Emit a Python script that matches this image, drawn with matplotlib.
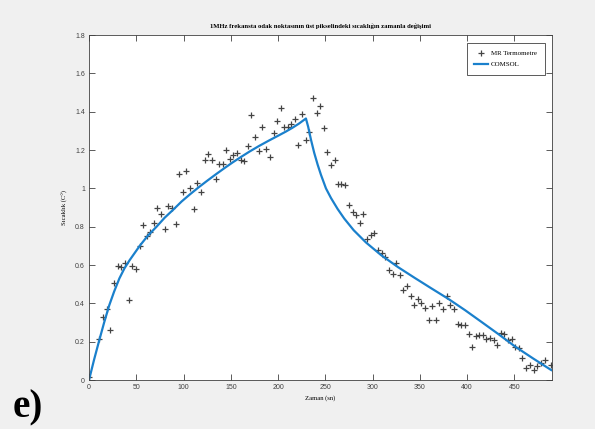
import numpy as np
import matplotlib
matplotlib.use('Agg')
import matplotlib.pyplot as plt

plt.rcParams['font.family'] = ['Liberation Sans', 'DejaVu Sans']

# MR termometre ölçümleri (zaman sn, sıcaklık)
mr_t = [0.3, 10.9, 14.9, 18.8, 22.6, 26.6, 30.5, 34.3, 38.2, 42.2, 45.7, 49.6,
        53.5, 57.4, 61.3, 64.8, 68.3, 72.2, 76.2, 80.0, 83.9, 87.4, 91.7, 95.6,
        99.1, 103.0, 107.0, 110.8, 114.4, 118.3, 122.2, 126.1, 130.0, 133.9, 137.8,
        141.3, 144.8, 149.0, 152.6, 156.5, 160.4, 163.9, 168.2, 171.8, 175.6, 179.5,
        183.5, 187.3, 191.2, 195.2, 198.7, 202.6, 206.4, 210.0, 213.5, 217.8, 221.3,
        225.5, 229.1, 233.0, 236.9, 240.8, 244.3, 248.3, 252.1, 256.0, 260.0, 263.8,
        267.0, 271.0, 275.2, 279.0, 282.9, 286.8, 290.4, 294.3, 298.2, 302.0, 305.6,
        309.5, 313.4, 317.3, 321.2, 325.1, 328.6, 332.5, 336.5, 340.3, 344.2, 348.1,
        351.6, 355.6, 359.4, 363.3, 366.8, 370.8, 374.7, 378.5, 382.1, 386.0, 389.9,
        393.8, 397.3, 401.6, 405.1, 409.0, 412.5, 416.4, 420.4, 424.2, 428.1, 431.6,
        435.6, 439.5, 443.3, 447.3, 450.8, 454.7, 458.6, 462.5, 466.4, 470.3, 474.1,
        478.1, 482.0, 489.0]
mr_T = [0.014, 0.215, 0.329, 0.372, 0.261, 0.504, 0.596, 0.591, 0.609, 0.416, 0.596, 0.577,
        0.700, 0.810, 0.753, 0.772, 0.820, 0.897, 0.866, 0.790, 0.909, 0.899, 0.814, 1.076,
        0.984, 1.093, 1.000, 0.894, 1.026, 0.982, 1.148, 1.180, 1.146, 1.049, 1.127,
        1.128, 1.201, 1.154, 1.174, 1.186, 1.148, 1.142, 1.219, 1.384, 1.266, 1.196,
        1.323, 1.208, 1.163, 1.287, 1.353, 1.420, 1.323, 1.323, 1.334, 1.361, 1.226,
        1.391, 1.255, 1.295, 1.473, 1.396, 1.428, 1.313, 1.191, 1.123, 1.148, 1.021,
        1.021, 1.017, 0.915, 0.876, 0.861, 0.821, 0.869, 0.737, 0.758, 0.765, 0.678,
        0.661, 0.640, 0.574, 0.551, 0.612, 0.546, 0.471, 0.492, 0.440, 0.391, 0.421,
        0.400, 0.374, 0.313, 0.386, 0.311, 0.403, 0.370, 0.437, 0.391, 0.372, 0.294,
        0.285, 0.285, 0.240, 0.174, 0.228, 0.235, 0.235, 0.212, 0.221, 0.210, 0.183,
        0.245, 0.238, 0.209, 0.212, 0.170, 0.165, 0.115, 0.064, 0.080, 0.052, 0.071,
        0.087, 0.107, 0.078]

# COMSOL simülasyonu
comsol_t = [0, 5.3, 10.7, 16, 21.4, 26.6, 32.1, 37.5, 42.9, 53.6, 62, 71.4, 80, 89.3,
            98, 107, 116, 125, 134, 143, 152, 161, 170, 180, 190, 200, 208, 215,
            222, 229.5, 231.9, 234.8, 238.3, 241.9, 245.4, 250.7, 256, 263, 270,
            280, 293, 309, 327, 344.6, 362, 380, 398, 415, 433, 451, 470, 489]
comsol_T = [0, 0.105, 0.205, 0.30, 0.39, 0.462, 0.53, 0.583, 0.625, 0.70, 0.752, 0.80,
            0.847, 0.89, 0.932, 0.97, 1.006, 1.04, 1.073, 1.105, 1.136, 1.165, 1.193,
            1.222, 1.249, 1.275, 1.296, 1.316, 1.338, 1.365, 1.321, 1.255, 1.185,
            1.124, 1.071, 1.0, 0.950, 0.893, 0.843, 0.782, 0.718, 0.652, 0.589,
            0.533, 0.479, 0.424, 0.364, 0.304, 0.240, 0.174, 0.112, 0.052]

fig = plt.figure(figsize=(5.95, 4.29), dpi=100, facecolor='#f0f0f0')
ax = fig.add_axes([0.1496, 0.1142, 0.7784, 0.8038])
ax.set_facecolor('white')

ax.plot(mr_t, mr_T, linestyle='none', marker='+', color='#444444', ms=4.5, mew=0.9,
        label='MR Termometre')
ax.plot(comsol_t, comsol_T, color='#1a80cc', lw=1.6, label='COMSOL')

ax.set_xlim(0, 490)
ax.set_ylim(0, 1.8)
ax.set_xticks(np.arange(0, 451, 50))
ax.set_yticks(np.arange(0, 1.81, 0.2))
ax.set_yticklabels(['0', '0.2', '0.4', '0.6', '0.8', '1', '1.2', '1.4', '1.6', '1.8'])
ax.tick_params(direction='in', top=True, right=True, labelsize=5, colors='#404040',
               length=4, width=0.6, pad=3)
for s in ax.spines.values():
    s.set_color('#404040')
    s.set_linewidth(0.6)

serif = ['Liberation Serif', 'DejaVu Serif']
ax.set_title('1MHz frekansta odak noktasının üst pikselindeki sıcaklığın zamanla değişimi',
             fontsize=4.8, fontweight='bold', family=serif, pad=5)
ax.set_xlabel('Zaman (sn)', fontsize=4.8, family=serif, labelpad=3)
ax.set_ylabel('Sıcaklık (C°)', fontsize=4.8, family=serif, labelpad=5)

leg = ax.legend(loc='upper right', prop={'family': serif, 'size': 5},
                fancybox=False, edgecolor='#404040', framealpha=1, borderpad=1.1,
                borderaxespad=1.1, handlelength=2.0, handletextpad=0.4,
                labelspacing=0.7)
leg.get_frame().set_linewidth(0.6)

fig.text(0.022, 0.028, 'e)', fontsize=28, fontweight='bold', family=serif,
         ha='left', va='baseline')

fig.savefig('out.png', dpi=100, facecolor=fig.get_facecolor())
